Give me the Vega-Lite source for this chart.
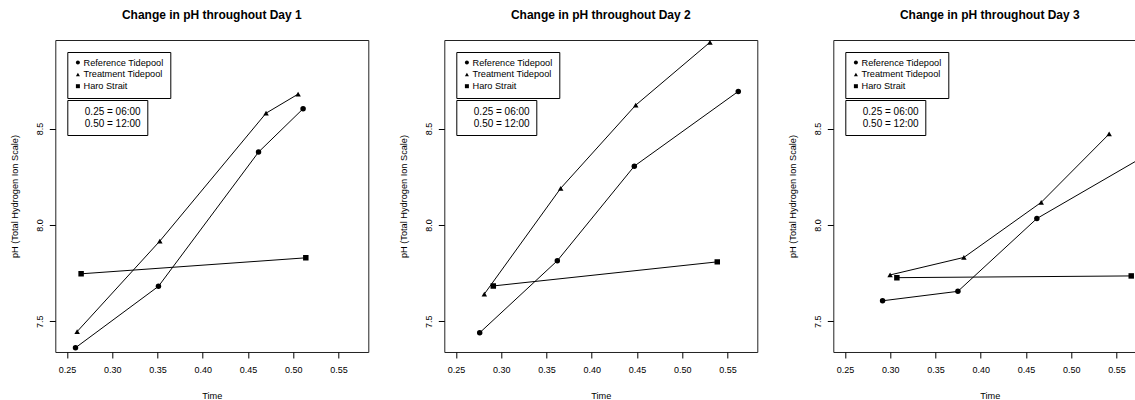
{
  "$schema": "https://vega.github.io/schema/vega-lite/v6.json",
  "padding": {"left": 9.3, "top": 8, "right": 0, "bottom": 0},
  "background": "white",
  "datasets": {
    "ph": [
      {"day": 1, "series": "Reference Tidepool", "time": 0.2595, "pH": 7.362},
      {"day": 1, "series": "Reference Tidepool", "time": 0.3511, "pH": 7.681},
      {"day": 1, "series": "Reference Tidepool", "time": 0.4616, "pH": 8.378},
      {"day": 1, "series": "Reference Tidepool", "time": 0.5108, "pH": 8.603},
      {"day": 1, "series": "Treatment Tidepool", "time": 0.2613, "pH": 7.446},
      {"day": 1, "series": "Treatment Tidepool", "time": 0.3526, "pH": 7.916},
      {"day": 1, "series": "Treatment Tidepool", "time": 0.4699, "pH": 8.580},
      {"day": 1, "series": "Treatment Tidepool", "time": 0.5053, "pH": 8.679},
      {"day": 1, "series": "Haro Strait", "time": 0.2657, "pH": 7.746},
      {"day": 1, "series": "Haro Strait", "time": 0.5138, "pH": 7.829},
      {"day": 2, "series": "Reference Tidepool", "time": 0.2763, "pH": 7.440},
      {"day": 2, "series": "Reference Tidepool", "time": 0.3620, "pH": 7.814},
      {"day": 2, "series": "Reference Tidepool", "time": 0.4470, "pH": 8.305},
      {"day": 2, "series": "Reference Tidepool", "time": 0.5618, "pH": 8.693},
      {"day": 2, "series": "Treatment Tidepool", "time": 0.2814, "pH": 7.641},
      {"day": 2, "series": "Treatment Tidepool", "time": 0.3657, "pH": 8.190},
      {"day": 2, "series": "Treatment Tidepool", "time": 0.4486, "pH": 8.622},
      {"day": 2, "series": "Treatment Tidepool", "time": 0.5305, "pH": 8.948},
      {"day": 2, "series": "Haro Strait", "time": 0.2913, "pH": 7.683},
      {"day": 2, "series": "Haro Strait", "time": 0.5386, "pH": 7.808},
      {"day": 3, "series": "Reference Tidepool", "time": 0.2916, "pH": 7.606},
      {"day": 3, "series": "Reference Tidepool", "time": 0.3748, "pH": 7.655},
      {"day": 3, "series": "Reference Tidepool", "time": 0.4620, "pH": 8.033},
      {"day": 3, "series": "Reference Tidepool", "time": 0.5802, "pH": 8.355},
      {"day": 3, "series": "Treatment Tidepool", "time": 0.2999, "pH": 7.740},
      {"day": 3, "series": "Treatment Tidepool", "time": 0.3814, "pH": 7.831},
      {"day": 3, "series": "Treatment Tidepool", "time": 0.4668, "pH": 8.117},
      {"day": 3, "series": "Treatment Tidepool", "time": 0.5418, "pH": 8.472},
      {"day": 3, "series": "Haro Strait", "time": 0.3074, "pH": 7.726},
      {"day": 3, "series": "Haro Strait", "time": 0.5662, "pH": 7.735}
    ],
    "notes": [
      {"note": "0.25 = 06:00"},
      {"note": "0.50 = 12:00"}
    ]
  },
  "bounds": "flush",
  "spacing": 76,
  "hconcat": [
    {
      "width": 313,
      "height": 312,
      "title": {"text": "Change in pH throughout Day 1"},
      "layer": [
        {
          "data": {"name": "ph"},
          "transform": [{"filter": "datum.day == 1"}],
          "mark": {"type": "line", "color": "black", "strokeWidth": 1, "clip": true},
          "encoding": {
            "x": {"field": "time", "type": "quantitative", "scale": {"domain": [0.2372, 0.5828], "nice": false, "zero": false},
              "axis": {"values": [0.25, 0.3, 0.35, 0.4, 0.45, 0.5, 0.55], "format": ".2f", "title": "Time", "titleX": 156.5, "titleY": 47, "titleBaseline": "alphabetic", "titleAlign": "center", "labelPadding": 8}},
            "y": {"field": "pH", "type": "quantitative", "scale": {"domain": [7.34, 8.96], "nice": false, "zero": false},
              "axis": {"values": [7.5, 8, 8.5], "format": ".1f", "labelAngle": -90, "labelAlign": "center", "labelBaseline": "alphabetic", "labelPadding": 7, "title": "pH (Total Hydrogen Ion Scale)", "titleAngle": -90, "titleX": -36, "titleY": 156, "titleAlign": "center", "titleBaseline": "bottom"}},
            "detail": {"field": "series"}
          }
        },
        {
          "data": {"name": "ph"},
          "transform": [{"filter": "datum.day == 1"}],
          "mark": {"type": "point", "filled": true, "color": "black", "opacity": 1, "size": 30, "clip": true},
          "encoding": {
            "x": {"field": "time", "type": "quantitative"},
            "y": {"field": "pH", "type": "quantitative"},
            "shape": {"field": "series", "type": "nominal",
              "scale": {"domain": ["Reference Tidepool", "Treatment Tidepool", "Haro Strait"], "range": ["circle", "triangle-up", "square"]},
              "legend": {"orient": "none", "legendX": 12, "legendY": 12, "title": null, "strokeColor": "black", "padding": 6, "rowPadding": 1.8, "labelFontSize": 9.2, "labelOffset": 1, "symbolSize": 16, "symbolFillColor": "black", "symbolStrokeColor": "black", "symbolStrokeWidth": 0}}
          }
        },
        {
          "data": {"name": "notes"},
          "mark": {"type": "point", "opacity": 0},
          "encoding": {
            "fill": {"field": "note", "type": "nominal", "scale": {"range": ["black", "black"]},
              "legend": {"orient": "none", "legendX": 12, "legendY": 60, "title": null, "strokeColor": "black", "padding": 6.5, "rowPadding": 2, "labelFontSize": 10, "labelOffset": 1, "symbolType": "circle", "symbolSize": 36, "symbolOpacity": 0, "symbolStrokeWidth": 0}}
          }
        }
      ]
    },
    {
      "width": 313,
      "height": 312,
      "title": {"text": "Change in pH throughout Day 2"},
      "layer": [
        {
          "data": {"name": "ph"},
          "transform": [{"filter": "datum.day == 2"}],
          "mark": {"type": "line", "color": "black", "strokeWidth": 1, "clip": true},
          "encoding": {
            "x": {"field": "time", "type": "quantitative", "scale": {"domain": [0.2372, 0.5828], "nice": false, "zero": false},
              "axis": {"values": [0.25, 0.3, 0.35, 0.4, 0.45, 0.5, 0.55], "format": ".2f", "title": "Time", "titleX": 156.5, "titleY": 47, "titleBaseline": "alphabetic", "titleAlign": "center", "labelPadding": 8}},
            "y": {"field": "pH", "type": "quantitative", "scale": {"domain": [7.34, 8.96], "nice": false, "zero": false},
              "axis": {"values": [7.5, 8, 8.5], "format": ".1f", "labelAngle": -90, "labelAlign": "center", "labelBaseline": "alphabetic", "labelPadding": 7, "title": "pH (Total Hydrogen Ion Scale)", "titleAngle": -90, "titleX": -36, "titleY": 156, "titleAlign": "center", "titleBaseline": "bottom"}},
            "detail": {"field": "series"}
          }
        },
        {
          "data": {"name": "ph"},
          "transform": [{"filter": "datum.day == 2"}],
          "mark": {"type": "point", "filled": true, "color": "black", "opacity": 1, "size": 30, "clip": true},
          "encoding": {
            "x": {"field": "time", "type": "quantitative"},
            "y": {"field": "pH", "type": "quantitative"},
            "shape": {"field": "series", "type": "nominal",
              "scale": {"domain": ["Reference Tidepool", "Treatment Tidepool", "Haro Strait"], "range": ["circle", "triangle-up", "square"]},
              "legend": {"orient": "none", "legendX": 12, "legendY": 12, "title": null, "strokeColor": "black", "padding": 6, "rowPadding": 1.8, "labelFontSize": 9.2, "labelOffset": 1, "symbolSize": 16, "symbolFillColor": "black", "symbolStrokeColor": "black", "symbolStrokeWidth": 0}}
          }
        },
        {
          "data": {"name": "notes"},
          "mark": {"type": "point", "opacity": 0},
          "encoding": {
            "fill": {"field": "note", "type": "nominal", "scale": {"range": ["black", "black"]},
              "legend": {"orient": "none", "legendX": 12, "legendY": 60, "title": null, "strokeColor": "black", "padding": 6.5, "rowPadding": 2, "labelFontSize": 10, "labelOffset": 1, "symbolType": "circle", "symbolSize": 36, "symbolOpacity": 0, "symbolStrokeWidth": 0}}
          }
        }
      ]
    },
    {
      "width": 304,
      "height": 312,
      "title": {"text": "Change in pH throughout Day 3", "dx": 4.5},
      "layer": [
        {
          "data": {"name": "ph"},
          "transform": [{"filter": "datum.day == 3"}],
          "mark": {"type": "line", "color": "black", "strokeWidth": 1, "clip": true},
          "encoding": {
            "x": {"field": "time", "type": "quantitative", "scale": {"domain": [0.2372, 0.5729], "nice": false, "zero": false},
              "axis": {"values": [0.25, 0.3, 0.35, 0.4, 0.45, 0.5, 0.55], "format": ".2f", "title": "Time", "titleX": 156.5, "titleY": 47, "titleBaseline": "alphabetic", "titleAlign": "center", "labelPadding": 8}},
            "y": {"field": "pH", "type": "quantitative", "scale": {"domain": [7.34, 8.96], "nice": false, "zero": false},
              "axis": {"values": [7.5, 8, 8.5], "format": ".1f", "labelAngle": -90, "labelAlign": "center", "labelBaseline": "alphabetic", "labelPadding": 7, "title": "pH (Total Hydrogen Ion Scale)", "titleAngle": -90, "titleX": -36, "titleY": 156, "titleAlign": "center", "titleBaseline": "bottom"}},
            "detail": {"field": "series"}
          }
        },
        {
          "data": {"name": "ph"},
          "transform": [{"filter": "datum.day == 3"}],
          "mark": {"type": "point", "filled": true, "color": "black", "opacity": 1, "size": 30, "clip": true},
          "encoding": {
            "x": {"field": "time", "type": "quantitative"},
            "y": {"field": "pH", "type": "quantitative"},
            "shape": {"field": "series", "type": "nominal",
              "scale": {"domain": ["Reference Tidepool", "Treatment Tidepool", "Haro Strait"], "range": ["circle", "triangle-up", "square"]},
              "legend": {"orient": "none", "legendX": 12, "legendY": 12, "title": null, "strokeColor": "black", "padding": 6, "rowPadding": 1.8, "labelFontSize": 9.2, "labelOffset": 1, "symbolSize": 16, "symbolFillColor": "black", "symbolStrokeColor": "black", "symbolStrokeWidth": 0}}
          }
        },
        {
          "data": {"name": "notes"},
          "mark": {"type": "point", "opacity": 0},
          "encoding": {
            "fill": {"field": "note", "type": "nominal", "scale": {"range": ["black", "black"]},
              "legend": {"orient": "none", "legendX": 12, "legendY": 60, "title": null, "strokeColor": "black", "padding": 6.5, "rowPadding": 2, "labelFontSize": 10, "labelOffset": 1, "symbolType": "circle", "symbolSize": 36, "symbolOpacity": 0, "symbolStrokeWidth": 0}}
          }
        }
      ]
    }
  ],
  "resolve": {
    "scale": {"x": "independent", "y": "independent", "shape": "independent", "fill": "independent"},
    "legend": {"shape": "independent", "fill": "independent"}
  },
  "config": {
    "font": "Liberation Sans",
    "view": {"stroke": "#222", "strokeWidth": 1},
    "title": {"fontSize": 12, "fontWeight": "bold", "color": "black", "offset": 18, "anchor": "middle", "font": "Liberation Sans"},
    "axis": {"labelFont": "Liberation Sans", "titleFont": "Liberation Sans", "labelFontSize": 9, "titleFontSize": 9.2, "titleFontWeight": "normal", "labelColor": "black", "titleColor": "black", "tickColor": "black", "tickSize": 6, "domain": false, "grid": false},
    "legend": {"labelFont": "Liberation Sans", "labelColor": "black"}
  }
}
